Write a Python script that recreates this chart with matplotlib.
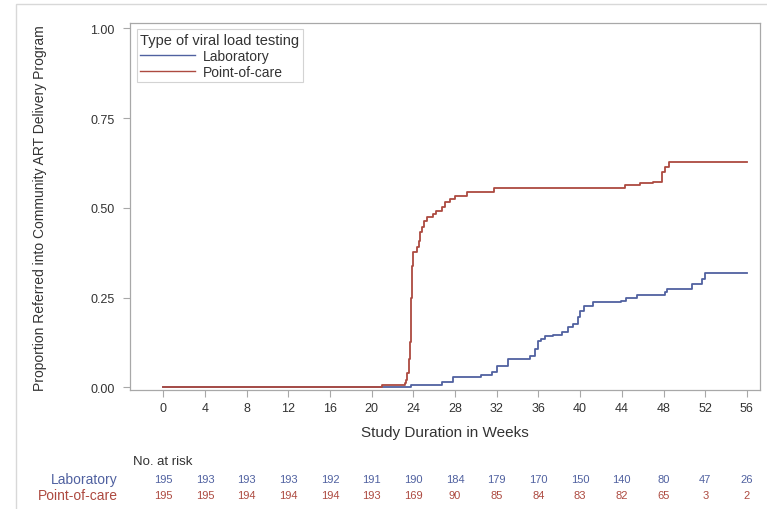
import numpy as np
import matplotlib
matplotlib.use("Agg")
import matplotlib.pyplot as plt
from matplotlib.patches import Rectangle
from matplotlib.transforms import blended_transform_factory

plt.rcParams['font.family'] = ['Liberation Sans', 'DejaVu Sans']

# Datos (semanas, proporcion acumulada)
lab_weeks = [0, 23.8, 26.7, 27.8, 30.5, 31.5, 32.0, 33.1, 35.2, 35.7, 36.0, 36.2,
             36.6, 37.4, 38.3, 38.8, 39.3, 39.8, 40.0, 40.4, 41.2, 43.9, 44.4,
             45.5, 48.1, 48.3, 50.7, 51.7, 52.0, 56.0]
lab_prop = [0.0, 0.006, 0.016, 0.028, 0.034, 0.042, 0.060, 0.079, 0.088, 0.107, 0.130, 0.135,
            0.142, 0.146, 0.153, 0.167, 0.176, 0.195, 0.213, 0.227, 0.237, 0.241, 0.248,
            0.257, 0.265, 0.274, 0.288, 0.302, 0.318, 0.318]

poc_weeks = [0, 21.0, 23.2, 23.3, 23.4, 23.6, 23.7, 23.8, 23.9, 24.0, 24.3, 24.5,
             24.6, 24.8, 25.0, 25.3, 25.9, 26.2, 26.7, 27.0, 27.5, 28.0, 29.1,
             31.7, 44.3, 45.7, 47.0, 47.9, 48.1, 48.5, 56.0]
poc_prop = [0.0, 0.007, 0.012, 0.020, 0.040, 0.080, 0.125, 0.250, 0.339, 0.376, 0.390, 0.408,
            0.432, 0.446, 0.464, 0.474, 0.483, 0.492, 0.501, 0.515, 0.525, 0.534, 0.543,
            0.556, 0.564, 0.568, 0.573, 0.599, 0.613, 0.627, 0.627]

risk_weeks = list(range(0, 57, 4))
lab_risk = [195, 193, 193, 193, 192, 191, 190, 184, 179, 170, 150, 140, 80, 47, 26]
poc_risk = [195, 195, 194, 194, 194, 193, 169, 90, 85, 84, 83, 82, 65, 3, 2]

blue = '#5061a0'
red = '#ad4a40'
gris = '#a8a8a8'
texto = '#333333'

fig = plt.figure(figsize=(7.67, 5.10), dpi=100)
fig.patches.append(Rectangle((16 / 767, -0.1), 1.2, 1.1 - 5 / 510, transform=fig.transFigure,
                             fill=False, edgecolor='#d8d8d8', lw=1.0))
ax = fig.add_axes([130 / 767, 1 - 391 / 510, 630 / 767, 366.7 / 510])

ax.step(lab_weeks, lab_prop, where='post', color=blue, lw=1.3, label='Laboratory')
ax.step(poc_weeks, poc_prop, where='post', color=red, lw=1.3, label='Point-of-care')

ax.set_xlim(-3.2, 57.26)
ax.set_ylim(-0.0075, 1.014)
ax.set_xticks(risk_weeks)
ax.set_yticks([0, 0.25, 0.5, 0.75, 1.0])
ax.set_yticklabels(['0.00', '0.25', '0.50', '0.75', '1.00'])
ax.tick_params(axis='both', colors=gris, labelcolor=texto, labelsize=9, length=5, width=0.8)
ax.tick_params(axis='x', pad=4)
ax.tick_params(axis='y', pad=6)
for s in ax.spines.values():
    s.set_color(gris)
    s.set_linewidth(0.9)

ax.set_xlabel('Study Duration in Weeks', fontsize=11, color=texto)
ax.xaxis.set_label_coords(0.5, -0.1137)
ax.xaxis.label.set_verticalalignment('center')
ax.set_ylabel('Proportion Referred into Community ART Delivery Program', fontsize=10, color=texto)
ax.yaxis.set_label_coords(-0.143, 0.5)
ax.yaxis.label.set_verticalalignment('center')

leg = ax.legend(title='Type of viral load testing', loc='upper left',
                bbox_to_anchor=(0.011, 0.984), fontsize=10, title_fontsize=10.5,
                handlelength=3.9, handletextpad=0.6, labelspacing=0.15,
                borderpad=0.25, borderaxespad=0, frameon=True, fancybox=False,
                alignment='left')
leg.get_frame().set_edgecolor('#c8c8c8')
leg.get_frame().set_linewidth(0.8)
for t in leg.get_texts():
    t.set_color(texto)
leg.get_title().set_color(texto)
for h in leg.get_lines():
    h.set_linewidth(1.0)

# Tabla de numero en riesgo
tr = blended_transform_factory(ax.transData, fig.transFigure)
fig.text(133 / 767, 1 - 462 / 510, 'No. at risk', fontsize=9.5, color=texto, ha='left', va='center')
fig.text(118 / 767, 1 - 480 / 510, 'Laboratory', fontsize=10, color=blue, ha='right', va='center')
fig.text(118 / 767, 1 - 496 / 510, 'Point-of-care', fontsize=10, color=red, ha='right', va='center')
for w, n1, n2 in zip(risk_weeks, lab_risk, poc_risk):
    ax.text(w, 1 - 480 / 510, str(n1), transform=tr, fontsize=8, color=blue, ha='center', va='center')
    ax.text(w, 1 - 496 / 510, str(n2), transform=tr, fontsize=8, color=red, ha='center', va='center')

fig.savefig('out.png', dpi=100)
